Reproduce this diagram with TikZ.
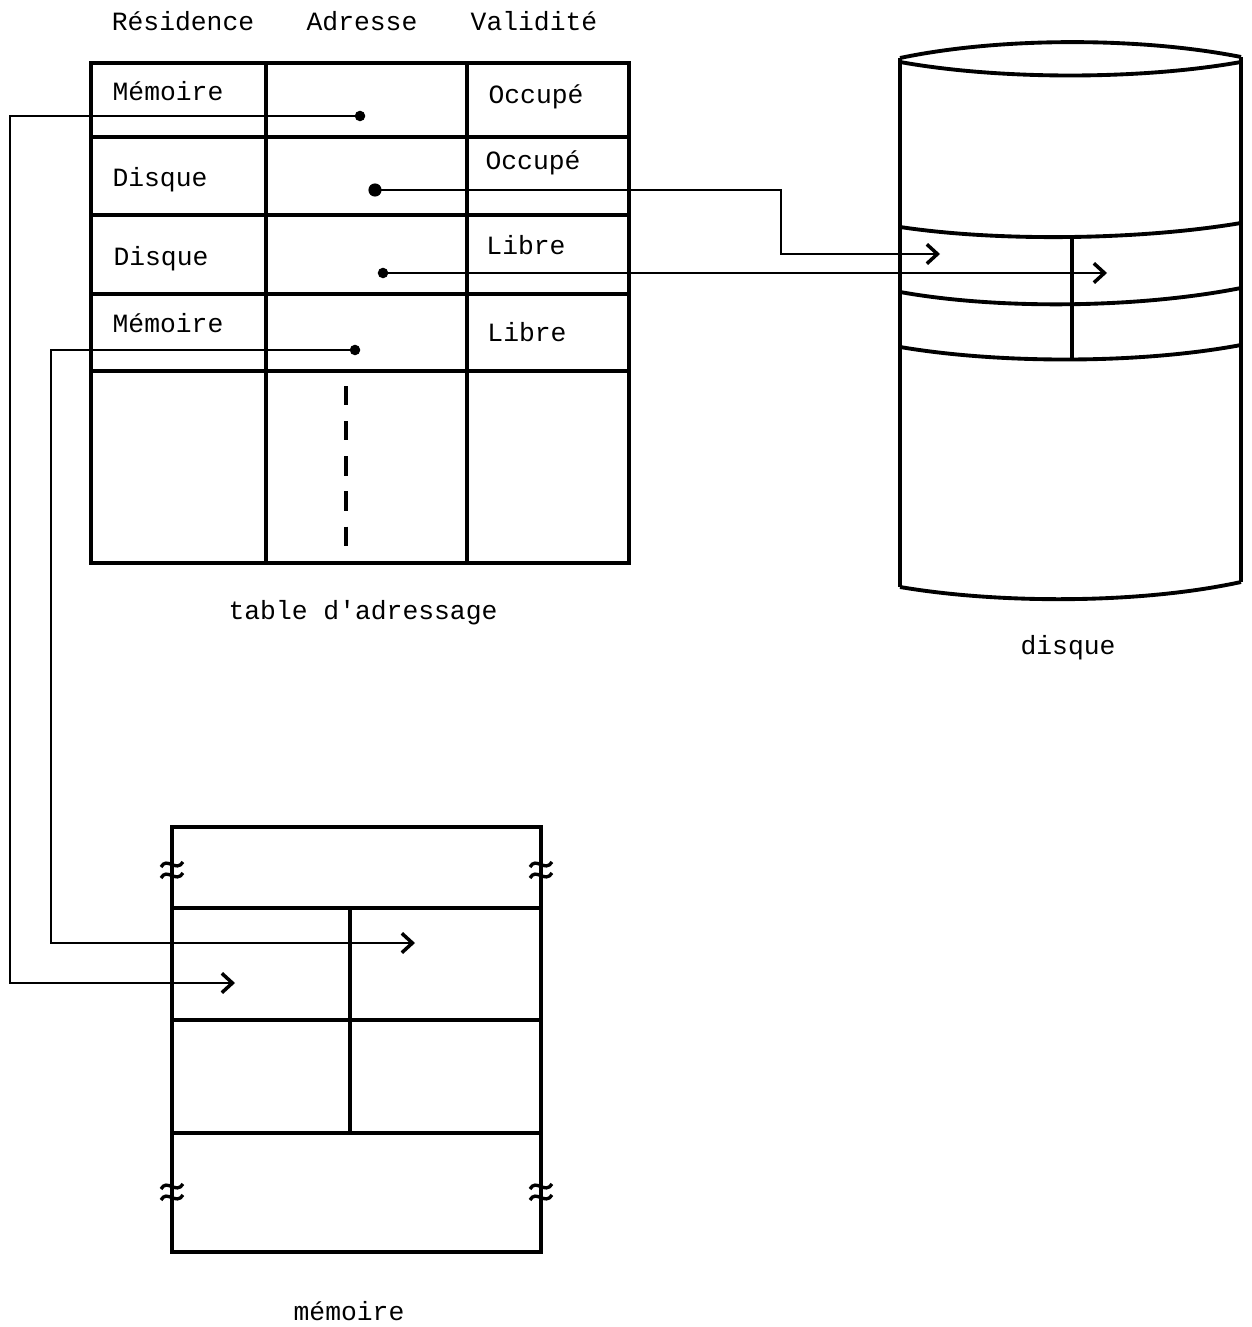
\documentclass[tikz,border=0pt]{standalone}
\usepackage{fontspec}
\setmonofont{Liberation Mono}
\usetikzlibrary{arrows.meta}
\begin{document}
\begin{tikzpicture}[x=0.02cm,y=-0.02cm,
  frame/.style={line width=1.9pt},
  link/.style={line width=1.2pt},
  arr/.style={link,-{Straight Barb[length=6pt,width=11pt,line width=2pt]}},
  lbl/.style={font=\ttfamily\fontsize{15}{18}\selectfont,inner sep=0pt},
  pin/.style={circle,fill,inner sep=0pt,minimum size=6pt},
  brk/.style={line width=1.9pt}]
\useasboundingbox (0,0) rectangle (1251,1327);
% ---------- headers ----------
\node[lbl] (hres) at (183,21) {Résidence};
\node[lbl] (hadr) at (362,21) {Adresse};
\node[lbl] (hval) at (534,21) {Validité};
% ---------- table ----------
\draw[frame] (91,63) rectangle (629,563);
\foreach \yy in {137,215,294,371} \draw[frame] (91,\yy) -- (629,\yy);
\draw[frame] (266,63) -- (266,563);
\draw[frame] (467,63) -- (467,563);
\draw[line width=2.2pt,dash pattern=on 11pt off 9pt] (346,386) -- (346,556);
\node[lbl] (r1a) at (168,91) {Mémoire};
\node[lbl] (r1c) at (536,97) {Occupé};
\node[lbl] (r2a) at (160,180) {Disque};
\node[lbl] (r2c) at (533,163) {Occupé};
\node[lbl] (r3a) at (161,259) {Disque};
\node[lbl] (r3c) at (526,245) {Libre};
\node[lbl] (r4a) at (168,323) {Mémoire};
\node[lbl] (r4c) at (527,332) {Libre};
\node[lbl] (ttab) at (363,613) {table d'adressage};
% pointers
\node[pin] (p1) at (360,116) {};
\node[pin,minimum size=7.5pt] (p2) at (375,190) {};
\node[pin] (p3) at (383,273) {};
\node[pin] (p4) at (355,350) {};
% ---------- disk ----------
\begin{scope}[line width=2.2pt]
\draw (900,58) .. controls (1000,37) and (1140,37) .. (1241,57);
\draw (900,62) .. controls (1000,80) and (1140,80) .. (1241,62);
\draw (900,58) -- (900,587);
\draw (1241,57) -- (1241,582);
\draw (900,587) .. controls (1000,604) and (1140,604) .. (1241,582);
\draw (900,227) .. controls (1000,242) and (1140,240) .. (1241,223);
\draw (900,292) .. controls (1000,310) and (1140,308) .. (1241,288);
\draw (900,347) .. controls (1000,364) and (1140,364) .. (1241,345);
\end{scope}
\draw[frame] (1072,238) -- (1072,361);
\node[lbl] (tdisk) at (1068,648) {disque};
\coordinate (d1) at (940,254);
\coordinate (d2) at (1107,273);
% ---------- memory ----------
\draw[frame,line width=2.2pt] (172,827) rectangle (541,1252);
\draw[frame] (172,908) -- (541,908);
\draw[frame] (172,1020) -- (541,1020);
\draw[frame] (172,1133) -- (541,1133);
\draw[frame] (350,908) -- (350,1133);
\foreach \bx/\by in {172/870,541/870,172/1192,541/1192}{
  \draw[brk] (\bx-11,\by-3) .. controls (\bx-5,\by-14) and (\bx+4,\by+3) .. (\bx+11,\by-8);
  \draw[brk] (\bx-11,\by+8) .. controls (\bx-5,\by-3) and (\bx+4,\by+14) .. (\bx+11,\by+3);
}
\node[lbl] (tmem) at (349,1311) {mémoire};
\coordinate (m1) at (235,983);
\coordinate (m2) at (415,943);
% ---------- connectors ----------
\draw[arr] (p1.center) -- (10,116) -- (10,983) -- (m1);
\draw[arr] (p4.center) -- (51,350) -- (51,943) -- (m2);
\draw[arr] (p2.center) -- (781,190) -- (781,254) -- (d1);
\draw[arr] (p3.center) -- (d2);
\end{tikzpicture}
\end{document}
